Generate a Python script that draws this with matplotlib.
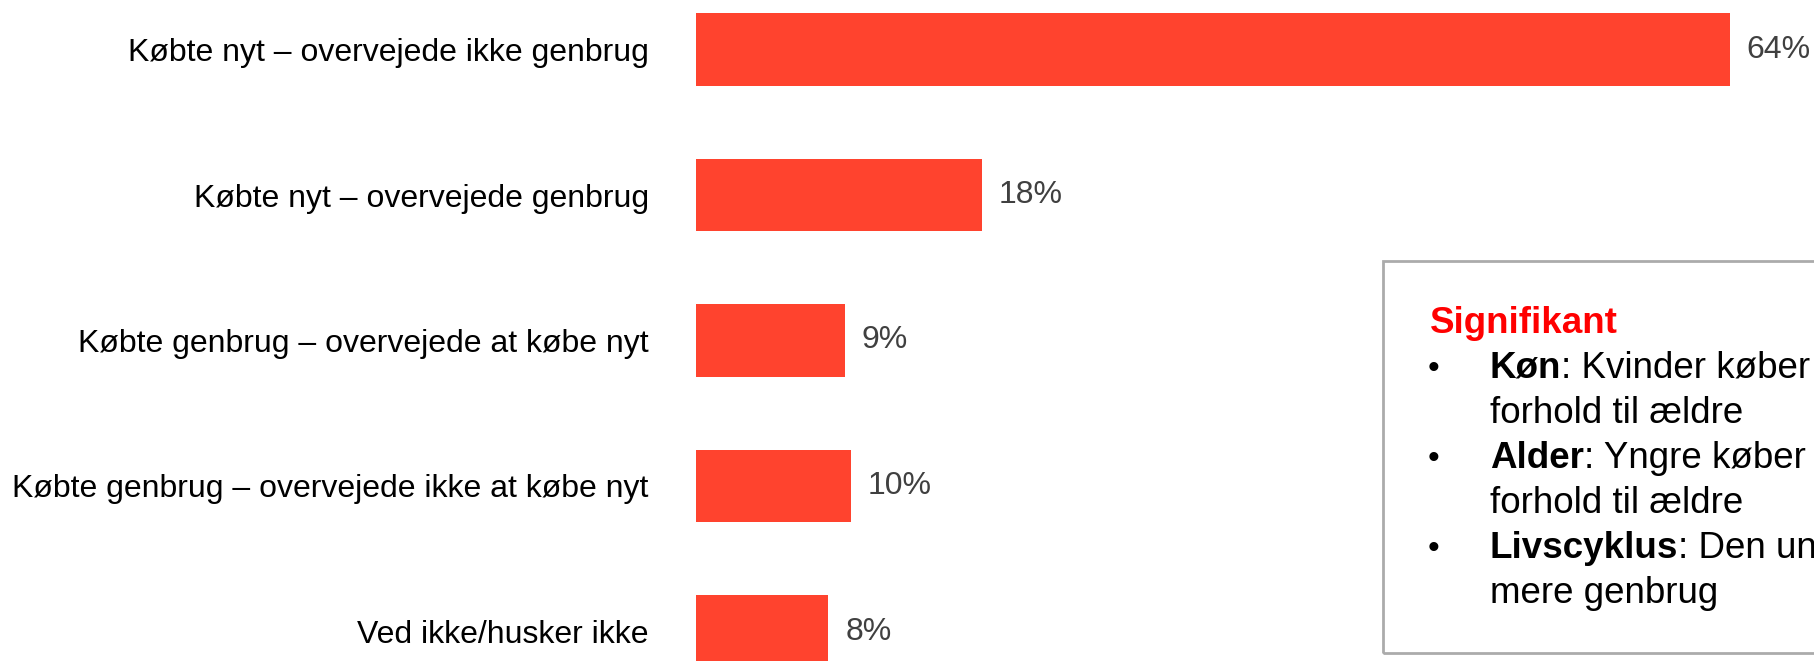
import matplotlib
matplotlib.use("Agg")
import matplotlib.pyplot as plt
from matplotlib.patches import Rectangle

plt.rcParams['font.family'] = ['Liberation Sans', 'DejaVu Sans']

# data
categories = [
    'Købte nyt – overvejede ikke genbrug',
    'Købte nyt – overvejede genbrug',
    'Købte genbrug – overvejede at købe nyt',
    'Købte genbrug – overvejede ikke at købe nyt',
    'Ved ikke/husker ikke',
]
values = [64.0, 17.7, 9.2, 9.6, 8.2]
value_labels = ['64%', '18%', '9%', '10%', '8%']

box_title = 'Signifikant'
box_items = [
    ('Køn', ': Kvinder køber mere', 'forhold til ældre'),
    ('Alder', ': Yngre køber mere', 'forhold til ældre'),
    ('Livscyklus', ': Den unge', 'mere genbrug'),
]

BAR_COLOR = '#FF432E'
W, H, DPI = 1814, 661, 100

fig = plt.figure(figsize=(W / DPI, H / DPI), dpi=DPI)

# axes starts where the bars start, spans full height (last bar is cut off)
x0 = 696
px_per_unit = (1730 - x0) / 64.0
ax = fig.add_axes([x0 / W, 0, 1 - x0 / W, 1])
ypos = list(range(len(categories)))
ax.barh(ypos, values, height=0.5, color=BAR_COLOR)
ax.set_xlim(0, (W - x0) / px_per_unit)
spacing = 145.5
ax.set_ylim((H - 49.5) / spacing, -49.5 / spacing)

ax.set_yticks(ypos)
ax.set_yticklabels(categories, fontsize=23, color='black')
ax.tick_params(axis='y', length=0, pad=34)
ax.set_xticks([])
for s in ax.spines.values():
    s.set_visible(False)

ax.bar_label(ax.containers[0], labels=value_labels, padding=12,
             fontsize=23, color='#404040')

# note box on the right, runs past the right edge
def fx(px):
    return px / W

def fy(py):
    return 1 - py / H

box = Rectangle((fx(1383), fy(653)), fx(W + 50) - fx(1383), fy(261) - fy(653),
                transform=fig.transFigure, fill=False, edgecolor='#ABABAB',
                linewidth=2, clip_on=False)
fig.patches.append(box)

FS = 26.5
fig.text(fx(1430), fy(333), box_title, color='#FF0000', fontsize=FS,
         fontweight='bold', va='baseline')

renderer = fig.canvas.get_renderer()
base = 378
for bold, rest, line2 in box_items:
    fig.text(fx(1428), fy(base), '•', fontsize=24, va='baseline')
    t = fig.text(fx(1490), fy(base), bold, fontsize=FS, fontweight='bold',
                 va='baseline')
    bb = t.get_window_extent(renderer)
    fig.text(bb.x1 / W, fy(base), rest, fontsize=FS, va='baseline')
    fig.text(fx(1490), fy(base + 45), line2, fontsize=FS, va='baseline')
    base += 90

fig.savefig('out.png', dpi=DPI)
